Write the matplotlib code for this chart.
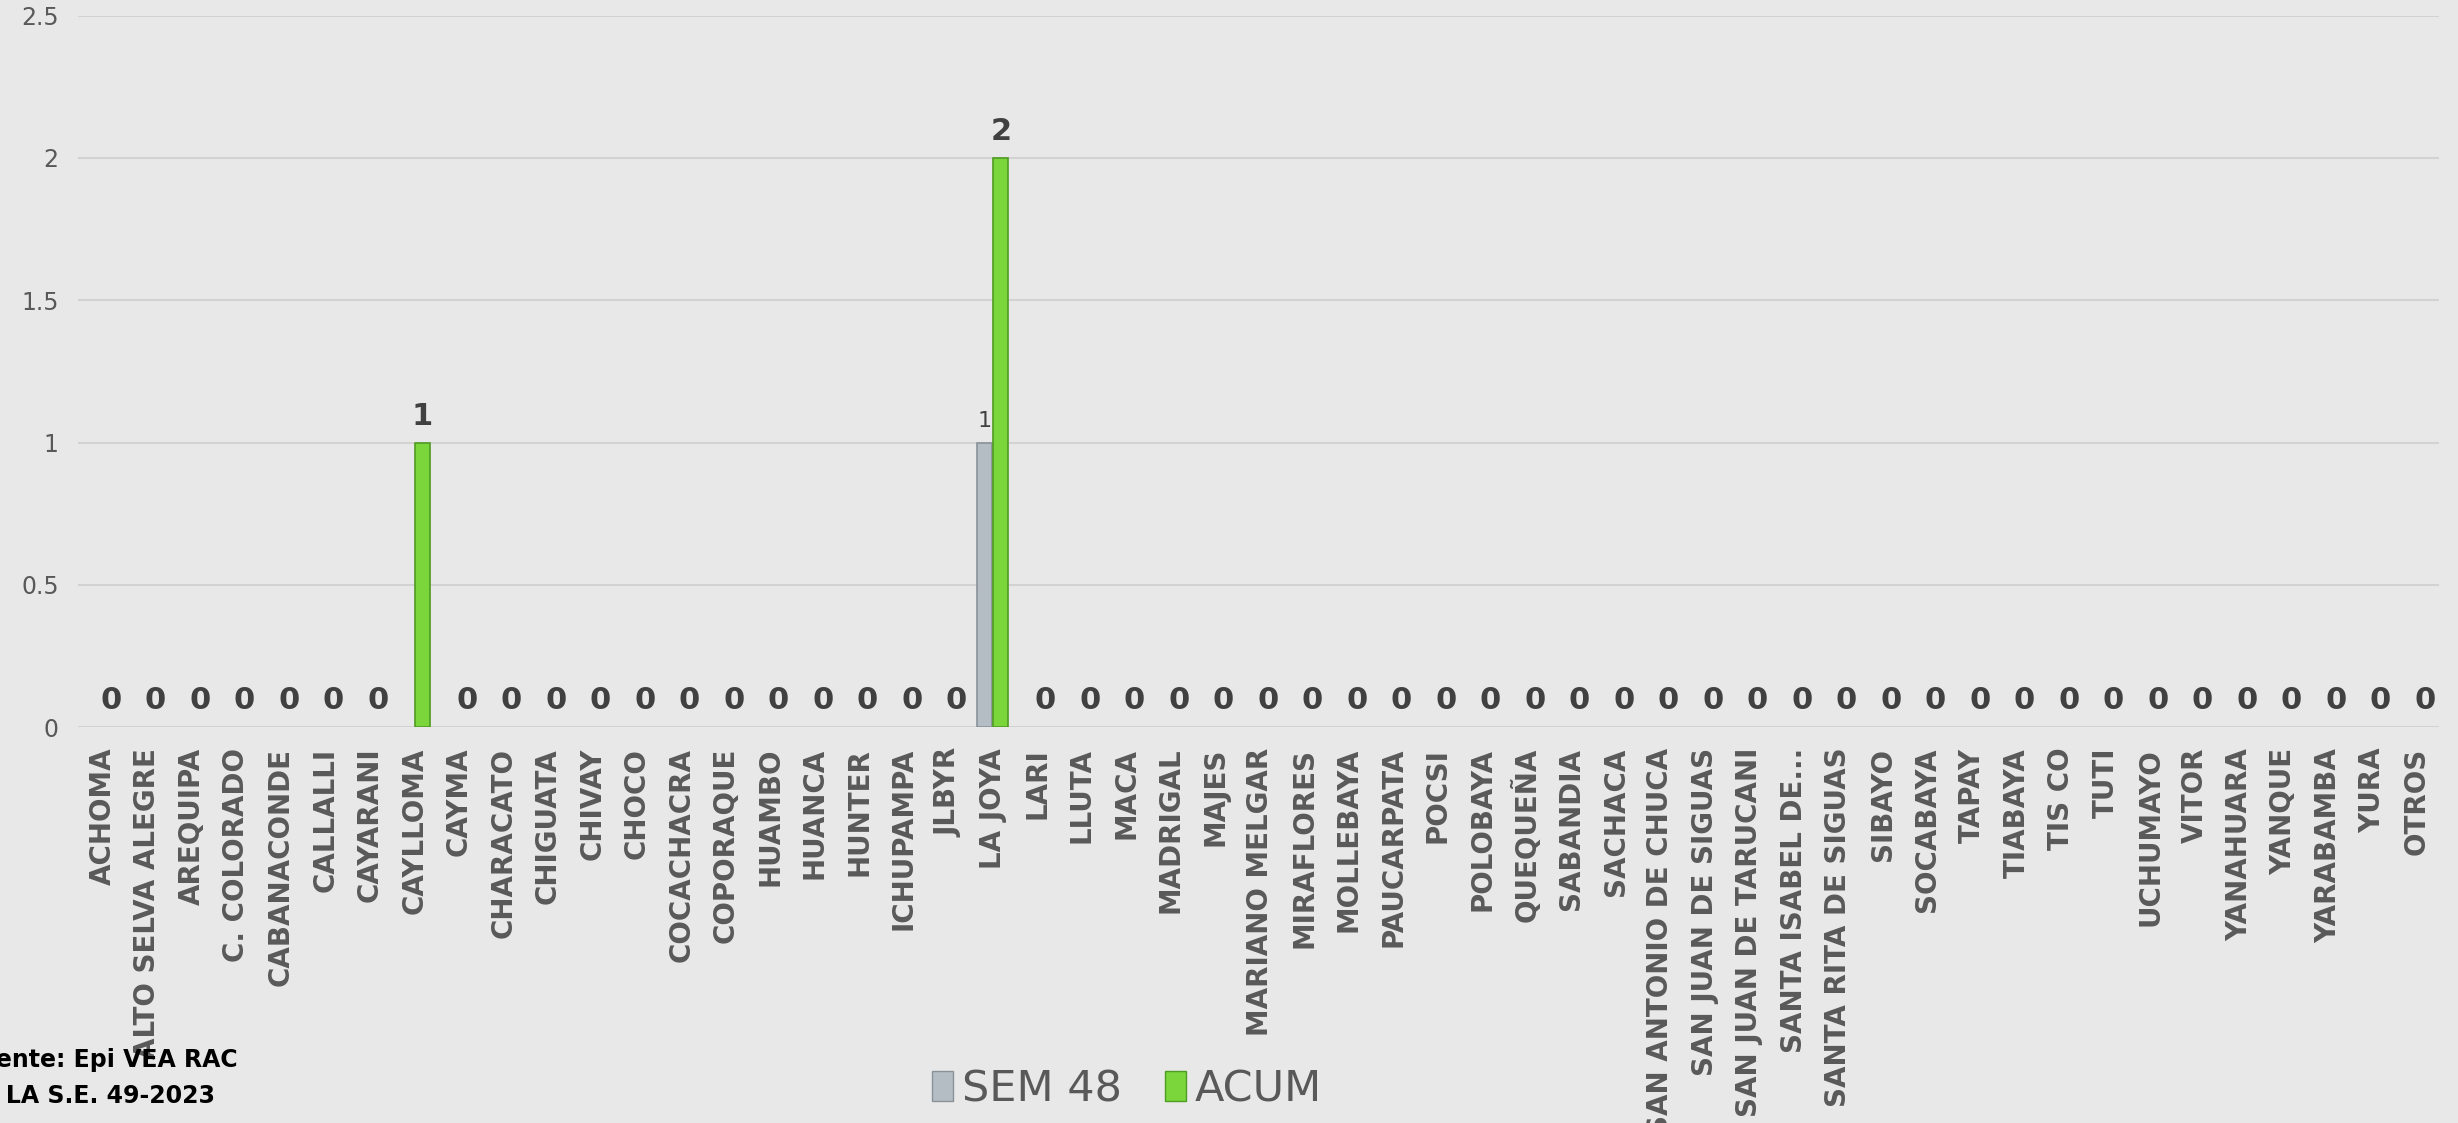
import numpy as np
import matplotlib.pyplot as plt
from matplotlib.patches import Patch

# distritos y casos
distritos = [
    "ACHOMA", "ALTO SELVA ALEGRE", "AREQUIPA", "C. COLORADO", "CABANACONDE",
    "CALLALLI", "CAYARANI", "CAYLLOMA", "CAYMA", "CHARACATO", "CHIGUATA",
    "CHIVAY", "CHOCO", "COCACHACRA", "COPORAQUE", "HUAMBO", "HUANCA", "HUNTER",
    "ICHUPAMPA", "JLBYR", "LA JOYA", "LARI", "LLUTA", "MACA", "MADRIGAL",
    "MAJES", "MARIANO MELGAR", "MIRAFLORES", "MOLLEBAYA", "PAUCARPATA", "POCSI",
    "POLOBAYA", "QUEQUEÑA", "SABANDIA", "SACHACA", "SAN ANTONIO DE CHUCA",
    "SAN JUAN DE SIGUAS", "SAN JUAN DE TARUCANI", "SANTA ISABEL DE...",
    "SANTA RITA DE SIGUAS", "SIBAYO", "SOCABAYA", "TAPAY", "TIABAYA", "TIS CO",
    "TUTI", "UCHUMAYO", "VITOR", "YANAHUARA", "YANQUE", "YARABAMBA", "YURA",
    "OTROS",
]
sem48 = [0] * len(distritos)
acum = [0] * len(distritos)
sem48[distritos.index("LA JOYA")] = 1
acum[distritos.index("CAYLLOMA")] = 1
acum[distritos.index("LA JOYA")] = 2

y_ticks = [0, 0.5, 1, 1.5, 2, 2.5]
y_tick_labels = ["0", "0.5", "1", "1.5", "2", "2.5"]

bg = "#e8e8e8"
txt = "#595959"

fig = plt.figure(figsize=(24.58, 11.23), dpi=100, facecolor=bg)
ax = fig.add_axes([0.0318, 0.3526, 0.9606, 0.6334], facecolor=bg)

x = np.arange(len(distritos))
w = 0.34
lw1 = [1.2 if v > 0 else 0 for v in sem48]
lw2 = [1.2 if v > 0 else 0 for v in acum]
ax.bar(x - 0.18, sem48, w, color="#b4bcc4", edgecolor="#8a9299", linewidth=lw1, zorder=3)
ax.bar(x + 0.18, acum, w, color="#7ad63a", edgecolor="#4f9c22", linewidth=lw2, zorder=3)

# etiquetas de valores
for xi, v in zip(x, acum):
    ax.annotate(str(v), (xi + 0.18, v), xytext=(0, 18), textcoords="offset pixels",
                ha="center", va="baseline", fontsize=22, fontweight="bold", color="#404040")
for xi, v in zip(x, sem48):
    if v > 0:
        ax.annotate(str(v), (xi - 0.18, v), xytext=(0, 16), textcoords="offset pixels",
                    ha="center", va="baseline", fontsize=16, color="#404040")

ax.set_xlim(-0.55, len(distritos) - 0.5)
ax.set_ylim(0, 2.5)
ax.set_yticks(y_ticks)
ax.set_yticklabels(y_tick_labels, fontsize=17, color=txt)
ax.set_xticks(x)
ax.set_xticklabels(distritos, rotation=90, fontsize=20, fontweight="bold", color=txt)
ax.tick_params(axis="both", length=0)
ax.tick_params(axis="y", pad=14)
ax.tick_params(axis="x", pad=15)
ax.grid(axis="y", color="#d2d2d2", linewidth=1.5, zorder=0)
for s in ax.spines.values():
    s.set_visible(False)

handles = [Patch(facecolor="#b4bcc4", edgecolor="#8a9299", label="SEM 48"),
           Patch(facecolor="#7ad63a", edgecolor="#4f9c22", label="ACUM")]
leg = fig.legend(handles=handles, loc="center", bbox_to_anchor=(0.4585, 0.03), ncol=2,
                 frameon=False, fontsize=31, handlelength=0.5, handleheight=0.7,
                 handletextpad=0.2, columnspacing=1.0)
for t in leg.get_texts():
    t.set_color(txt)

fig.text(238 / 2458, 0.056, "Fuente: Epi VEA RAC", ha="right", va="center",
         fontsize=17, fontweight="bold", color="black")
fig.text(215 / 2458, 0.024, "HASTA LA S.E. 49-2023", ha="right", va="center",
         fontsize=17, fontweight="bold", color="black")

fig.savefig("out.png", dpi=100, facecolor=bg)
